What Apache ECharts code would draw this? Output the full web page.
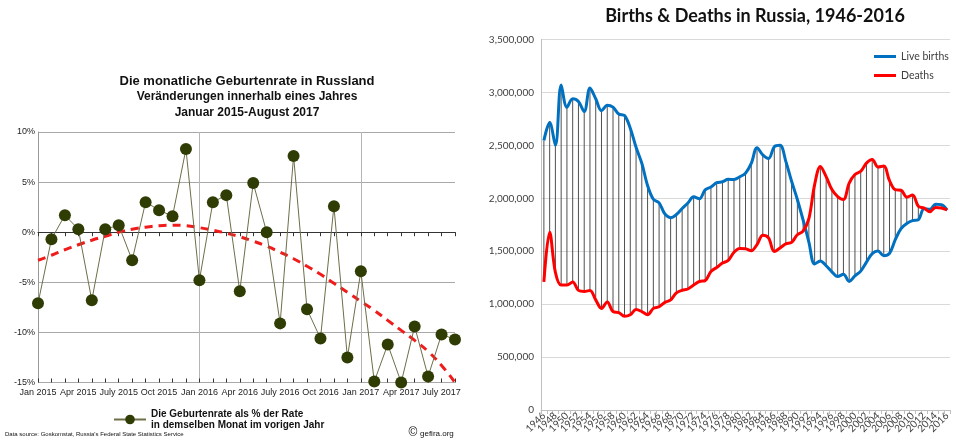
<!DOCTYPE html>
<html>
<head>
<meta charset="utf-8">
<script src="https://cdn.jsdelivr.net/npm/echarts@6/dist/echarts.min.js"></script>
<style>
  html, body { margin: 0; padding: 0; background: #fff; }
  #chart { width: 956px; height: 446px; }
</style>
</head>
<body>
<div id="chart"></div>
<script>
// linke Grafik: monatliche Veränderung der Geburtenrate (%)
const months = [
  'Jan 2015', 'Feb 2015', 'Mar 2015', 'Apr 2015', 'May 2015', 'June 2015',
  'July 2015', 'Aug 2015', 'Sep 2015', 'Oct 2015', 'Nov 2015', 'Dec 2015',
  'Jan 2016', 'Feb 2016', 'Mar 2016', 'Apr 2016', 'May 2016', 'June 2016',
  'July 2016', 'Aug 2016', 'Sep 2016', 'Oct 2016', 'Nov 2016', 'Dec 2016',
  'Jan 2017', 'Feb 2017', 'Mar 2017', 'Apr 2017', 'May 2017', 'June 2017',
  'July 2017', 'Aug 2017'
];
const rateValues = [
  -7.1, -0.7, 1.7, 0.3, -6.8, 0.3, 0.7, -2.8, 3.0, 2.2, 1.6, 8.3,
  -4.8, 3.0, 3.7, -5.9, 4.9, 0.0, -9.1, 7.6, -7.7, -10.6, 2.6, -12.5,
  -3.9, -14.9, -11.2, -15.0, -9.4, -14.4, -10.2, -10.7
];
// rote Trendlinie
const trendValues = [
  -2.8, -2.3, -1.75, -1.25, -0.8, -0.4, 0.0, 0.3, 0.5, 0.65, 0.7, 0.65,
  0.45, 0.2, -0.1, -0.45, -0.9, -1.4, -2.0, -2.65, -3.4, -4.2, -5.1, -6.0,
  -6.9, -7.8, -8.8, -9.8, -10.8, -11.9, -13.3, -15.0
];

// right chart: births & deaths 1946-2016
const years = [
  '1946', '1947', '1948', '1949', '1950', '1951', '1952', '1953', '1954', '1955',
  '1956', '1957', '1958', '1959', '1960', '1961', '1962', '1963', '1964', '1965',
  '1966', '1967', '1968', '1969', '1970', '1971', '1972', '1973', '1974', '1975',
  '1976', '1977', '1978', '1979', '1980', '1981', '1982', '1983', '1984', '1985',
  '1986', '1987', '1988', '1989', '1990', '1991', '1992', '1993', '1994', '1995',
  '1996', '1997', '1998', '1999', '2000', '2001', '2002', '2003', '2004', '2005',
  '2006', '2007', '2008', '2009', '2010', '2011', '2012', '2013', '2014', '2015',
  '2016'
];
const births = [
  2546000, 2715000, 2500000, 3070000, 2859000, 2940000, 2914000, 2819000, 3041000, 2940000,
  2828000, 2880000, 2861000, 2796000, 2782000, 2662000, 2482000, 2331000, 2121000, 1991000,
  1957000, 1852000, 1817000, 1847000, 1904000, 1955000, 2014000, 1995000, 2079000, 2106000,
  2147000, 2156000, 2179000, 2178000, 2203000, 2237000, 2329000, 2478000, 2410000, 2375000,
  2486000, 2500000, 2349000, 2161000, 1989000, 1795000, 1587000, 1379000, 1408000, 1363000,
  1305000, 1260000, 1283000, 1215000, 1267000, 1312000, 1397000, 1477000, 1502000, 1457000,
  1480000, 1610000, 1714000, 1762000, 1789000, 1797000, 1902000, 1896000, 1943000, 1940000,
  1889000
];
const deaths = [
  1210000, 1680000, 1300000, 1180000, 1180000, 1210000, 1130000, 1120000, 1130000, 1040000,
  960000, 1020000, 930000, 920000, 886000, 900000, 950000, 930000, 900000, 960000,
  975000, 1017000, 1040000, 1107000, 1131000, 1143000, 1181000, 1214000, 1222000, 1309000,
  1346000, 1388000, 1414000, 1490000, 1526000, 1524000, 1504000, 1563000, 1650000, 1625000,
  1498000, 1531000, 1569000, 1583000, 1656000, 1690000, 1807000, 2129000, 2301000, 2204000,
  2082000, 2016000, 1988000, 2144000, 2225000, 2255000, 2332000, 2366000, 2296000, 2304000,
  2166000, 2081000, 2076000, 2011000, 2031000, 1925000, 1907000, 1872000, 1914000, 1908000,
  1891000
];

const ARIAL = '"Liberation Sans", Arial, sans-serif';
const CALI = 'Lato, "Open Sans", sans-serif';

const chart = echarts.init(document.getElementById('chart'));

function label(x, y, text, font, align) {
  return {
    type: 'text',
    style: { x: x, y: y, text: text, font: font, fill: '#111', textAlign: align || 'center', textVerticalAlign: 'middle' }
  };
}

const option = {
  animation: false,
  backgroundColor: '#fff',
  grid: [
    { left: 38, right: 501, top: 132, bottom: 63.5 },
    { left: 541, right: 6, top: 39.5, bottom: 36 }
  ],
  legend: [
    {
      data: ['Geburtenrate'],
      left: 108,
      top: 404,
      itemWidth: 32,
      itemHeight: 12,
      formatter: () => 'Die Geburtenrate als % der Rate\nin demselben Monat im vorigen Jahr',
      textStyle: { fontFamily: ARIAL, fontWeight: 'bold', fontSize: 10, lineHeight: 10.5, color: '#111' }
    },
    {
      data: ['Live births', 'Deaths'],
      orient: 'vertical',
      left: 869,
      top: 46,
      icon: 'rect',
      itemWidth: 22,
      itemHeight: 3,
      itemGap: 8,
      textStyle: { fontFamily: CALI, fontSize: 10.5, color: '#404040' }
    }
  ],
  xAxis: [
    {
      gridIndex: 0,
      type: 'category',
      data: months,
      boundaryGap: false,
      axisLine: { lineStyle: { color: '#333', width: 1 } },
      axisTick: { show: true, interval: 0, length: 4, lineStyle: { color: '#333' } },
      axisLabel: { interval: 2, fontFamily: ARIAL, fontSize: 9, color: '#222', margin: 6 },
      splitLine: {
        show: true,
        interval: (i) => i === 12 || i === 24,
        lineStyle: { color: '#b5b5b5', width: 1 }
      }
    },
    {
      // Innenstriche der Achse
      gridIndex: 0,
      type: 'category',
      data: months,
      boundaryGap: false,
      position: 'bottom',
      axisLine: { show: false },
      axisTick: { show: true, inside: true, interval: 0, length: 4, lineStyle: { color: '#333' } },
      axisLabel: { show: false },
      splitLine: { show: false }
    },
    {
      gridIndex: 1,
      type: 'category',
      data: years,
      boundaryGap: true,
      axisLine: { lineStyle: { color: '#bfbfbf' } },
      axisTick: { show: true, interval: 0, length: 4, lineStyle: { color: '#bfbfbf' } },
      // interval 0 keeps every label; odd years get an empty string
      axisLabel: {
        interval: 0, rotate: 45, fontFamily: CALI, fontSize: 10,
        color: '#404040', margin: 4,
        formatter: (v, i) => (i % 2 === 0 ? v : '')
      },
      splitLine: { show: false }
    }
  ],
  yAxis: [
    {
      gridIndex: 0,
      type: 'value',
      min: -15,
      max: 10,
      interval: 5,
      axisLine: { show: true, lineStyle: { color: '#999' } },
      axisTick: { show: false },
      axisLabel: { formatter: '{value}%', fontFamily: ARIAL, fontSize: 9, color: '#222', margin: 3 },
      splitLine: { lineStyle: { color: '#a9a9a9' } }
    },
    {
      gridIndex: 1,
      type: 'value',
      min: 0,
      max: 3500000,
      interval: 500000,
      axisLine: { show: true, lineStyle: { color: '#bfbfbf' } },
      axisTick: { show: false },
      axisLabel: {
        formatter: (v) => v.toLocaleString('en-US'),
        fontFamily: CALI, fontSize: 10, color: '#404040', margin: 7
      },
      splitLine: { lineStyle: { color: '#d9d9d9' } }
    }
  ],
  series: [
    {
      name: 'Trend',
      type: 'line',
      xAxisIndex: 0,
      yAxisIndex: 0,
      data: trendValues,
      smooth: true,
      symbol: 'none',
      lineStyle: { color: '#f01c1c', width: 3, type: [8, 6] },
      z: 2
    },
    {
      name: 'Geburtenrate',
      type: 'line',
      xAxisIndex: 0,
      yAxisIndex: 0,
      data: rateValues,
      symbol: 'circle',
      symbolSize: 12,
      showAllSymbol: true,
      clip: false,
      itemStyle: { color: '#2f3d05' },
      lineStyle: { color: '#6e6e48', width: 1 },
      z: 3
    },
    {
      // high-low lines between births and deaths
      name: 'gap',
      type: 'custom',
      xAxisIndex: 2,
      yAxisIndex: 1,
      data: years.map((y, i) => [i, births[i], deaths[i]]),
      encode: { x: 0, y: [1, 2] },
      renderItem: function (params, api) {
        const a = api.coord([api.value(0), api.value(1)]);
        const b = api.coord([api.value(0), api.value(2)]);
        return {
          type: 'line',
          shape: { x1: a[0], y1: a[1], x2: b[0], y2: b[1] },
          style: { stroke: '#3c3c3c', lineWidth: 0.9 }
        };
      },
      z: 1
    },
    {
      name: 'Live births',
      type: 'line',
      xAxisIndex: 2,
      yAxisIndex: 1,
      data: births,
      smooth: 0.35,
      symbol: 'none',
      itemStyle: { color: '#0070c0' },
      lineStyle: { color: '#0070c0', width: 3 },
      z: 3
    },
    {
      name: 'Deaths',
      type: 'line',
      xAxisIndex: 2,
      yAxisIndex: 1,
      data: deaths,
      smooth: 0.35,
      symbol: 'none',
      itemStyle: { color: '#ff0000' },
      lineStyle: { color: '#ff0000', width: 3 },
      z: 3
    }
  ],
  graphic: [
    label(247, 81, 'Die monatliche Geburtenrate in Russland', 'bold 13px "Liberation Sans", Arial, sans-serif'),
    label(247, 97, 'Veränderungen innerhalb eines Jahres', 'bold 12px "Liberation Sans", Arial, sans-serif'),
    label(247, 113, 'Januar 2015-August 2017', 'bold 12px "Liberation Sans", Arial, sans-serif'),
    label(5, 434, "Data source: Goskomstat, Russia's Federal State Statistics Service", '6px "Liberation Sans", Arial, sans-serif', 'left'),
    label(413, 433, '©', '12px "Liberation Sans", Arial, sans-serif'),
    label(420, 434, 'gefira.org', '8px "Liberation Sans", Arial, sans-serif', 'left'),
    label(755, 16, 'Births & Deaths in Russia, 1946-2016', 'bold 18px Lato, "Open Sans", sans-serif')
  ]
};

chart.setOption(option);
</script>
</body>
</html>
